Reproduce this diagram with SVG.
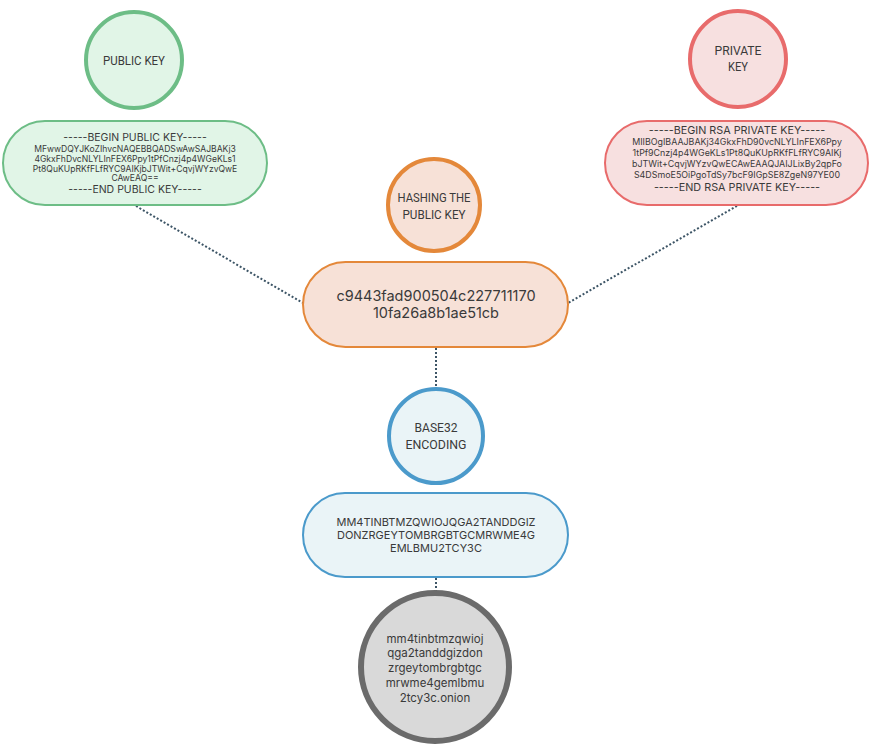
<svg xmlns="http://www.w3.org/2000/svg" width="873" height="745" viewBox="0 0 873 745">
<style>
text{font-family:Inter,"Noto Sans","Liberation Sans",sans-serif;fill:#3a3a3a;text-anchor:middle}
.lbl{font-family:Roboto,"Liberation Sans",sans-serif;font-size:13px}
.hd{font-size:10.5px}
.bd{font-size:8.6px}
.hd2{font-size:10.8px}
.bd2{font-size:8.9px}
.green{fill:#e1f5e7;stroke:#6dbd86}
.red{fill:#f7e0e0;stroke:#e86b6b}
.orange{fill:#f7e1d7;stroke:#e4883a}
.blue{fill:#eaf4f7;stroke:#4b9acb}
.gray{fill:#d9d9d9;stroke:#6b6b6b}
.conn{stroke:#3d5566;stroke-width:2;stroke-dasharray:2 2;fill:none}
</style>
<g id="connectors">
<line class="conn" x1="136" y1="206" x2="303" y2="303"/>
<line class="conn" x1="737" y1="206" x2="568" y2="303"/>
<line class="conn" x1="436" y1="348" x2="436" y2="388"/>
<line class="conn" x1="436" y1="578" x2="436" y2="594"/>
</g>
<g id="public-key">
<circle class="green" cx="134" cy="60" r="48" stroke-width="4"/>
<text class="lbl" x="134" y="65" textLength="62" lengthAdjust="spacingAndGlyphs">PUBLIC KEY</text>
</g>
<g id="public-key-value">
<rect class="green" x="3" y="121" width="264" height="84" rx="42" stroke-width="2"/>
<text class="hd" x="135" y="141">-----BEGIN PUBLIC KEY-----</text>
<text class="bd" x="135" y="152">MFwwDQYJKoZIhvcNAQEBBQADSwAwSAJBAKj3</text>
<text class="bd" x="135" y="162">4GkxFhDvcNLYLInFEX6Ppy1tPfCnzj4p4WGeKLs1</text>
<text class="bd" x="135" y="172">Pt8QuKUpRKfFLfRYC9AIKjbJTWit+CqvjWYzvQwE</text>
<text class="bd" x="135" y="181">CAwEAQ==</text>
<text class="hd" x="135" y="193">-----END PUBLIC KEY-----</text>
</g>
<g id="private-key">
<circle class="red" cx="738" cy="59" r="48" stroke-width="4"/>
<text class="lbl" x="738" y="55" textLength="47" lengthAdjust="spacingAndGlyphs">PRIVATE</text>
<text class="lbl" x="738" y="71" textLength="20" lengthAdjust="spacingAndGlyphs">KEY</text>
</g>
<g id="private-key-value">
<rect class="red" x="605" y="121" width="263" height="84" rx="42" stroke-width="2"/>
<text class="hd2" x="737" y="134">-----BEGIN RSA PRIVATE KEY-----</text>
<text class="bd2" x="737" y="145">MIIBOgIBAAJBAKj34GkxFhD90vcNLYLInFEX6Ppy</text>
<text class="bd2" x="737" y="156">1tPf9Cnzj4p4WGeKLs1Pt8QuKUpRKfFLfRYC9AIKj</text>
<text class="bd2" x="737" y="167">bJTWit+CqvjWYzvQwECAwEAAQJAIJLixBy2qpFo</text>
<text class="bd2" x="737" y="178">S4DSmoE5OiPgoTdSy7bcF9IGpSE8ZgeN97YE00</text>
<text class="hd2" x="737" y="191">-----END RSA PRIVATE KEY-----</text>
</g>
<g id="hashing">
<circle class="orange" cx="434" cy="205" r="46" stroke-width="4"/>
<text class="lbl" x="434" y="202" textLength="73" lengthAdjust="spacingAndGlyphs">HASHING THE</text>
<text class="lbl" x="434" y="219" textLength="63" lengthAdjust="spacingAndGlyphs">PUBLIC KEY</text>
</g>
<g id="hash-value">
<rect class="orange" x="303" y="262" width="265" height="85" rx="42.5" stroke-width="2"/>
<text x="436" y="301" font-size="14.5">c9443fad900504c227711170</text>
<text x="436" y="318" font-size="14.5">10fa26a8b1ae51cb</text>
</g>
<g id="base32">
<circle class="blue" cx="436" cy="436" r="47" stroke-width="4"/>
<text class="lbl" x="436" y="432" textLength="43" lengthAdjust="spacingAndGlyphs">BASE32</text>
<text class="lbl" x="436" y="449" textLength="61" lengthAdjust="spacingAndGlyphs">ENCODING</text>
</g>
<g id="base32-value">
<rect class="blue" x="303" y="493" width="265" height="84" rx="42" stroke-width="2"/>
<text x="436" y="526" font-size="11">MM4TINBTMZQWIOJQGA2TANDDGIZ</text>
<text x="436" y="539" font-size="11">DONZRGEYTOMBRGBTGCMRWME4G</text>
<text x="436" y="552" font-size="11">EMLBMU2TCY3C</text>
</g>
<g id="onion">
<circle class="gray" cx="435" cy="667" r="74" stroke-width="6"/>
<text x="435" y="643" font-size="11.5">mm4tinbtmzqwioj</text>
<text x="435" y="657" font-size="11.5">qga2tanddgizdon</text>
<text x="435" y="672" font-size="11.5">zrgeytombrgbtgc</text>
<text x="435" y="687" font-size="11.5">mrwme4gemlbmu</text>
<text x="435" y="702" font-size="11.5">2tcy3c.onion</text>
</g>
</svg>
